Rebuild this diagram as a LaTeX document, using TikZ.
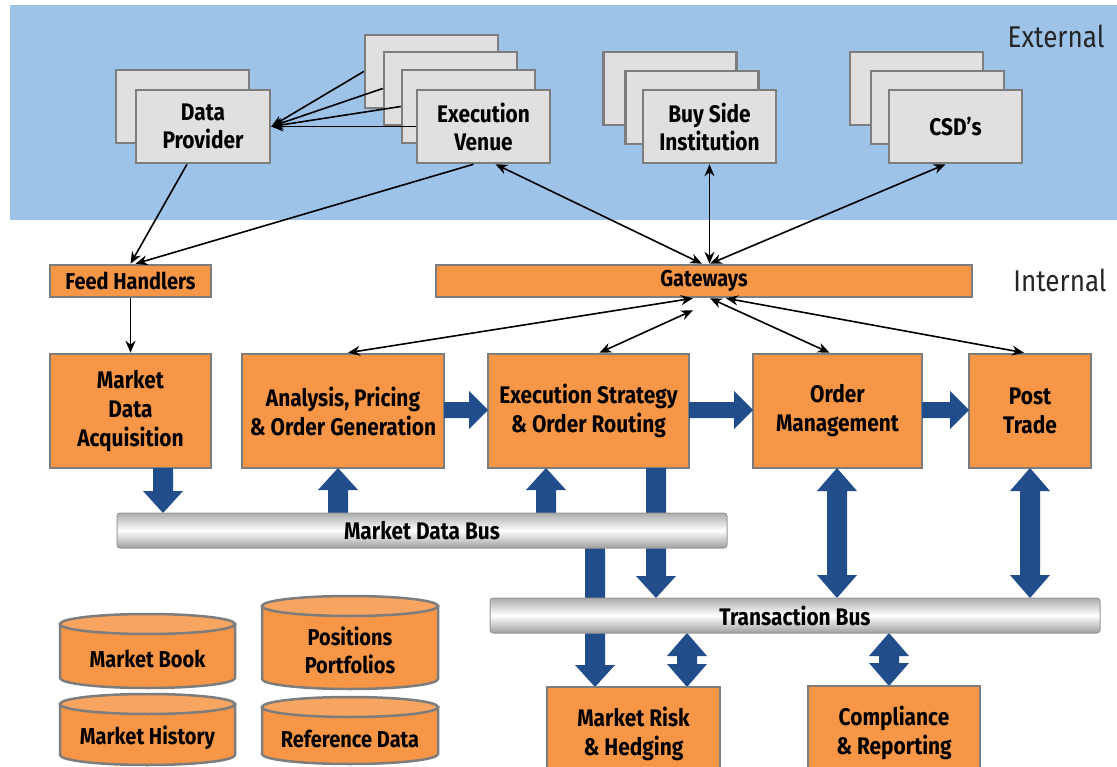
\documentclass[tikz,border=0pt]{standalone}
\usepackage{fontspec}
\setmainfont{Fira Sans}[FakeStretch=0.87]
\usetikzlibrary{arrows.meta,calc}
\definecolor{bgblue}{RGB}{157,195,233}
\definecolor{orangef}{RGB}{246,150,70}
\definecolor{orangetop}{RGB}{248,165,98}
\definecolor{bordgray}{RGB}{125,125,125}
\definecolor{boxgray}{RGB}{224,224,224}
\definecolor{arrblue}{RGB}{33,78,138}
\tikzset{
  gbox/.style={draw=bordgray, fill=boxgray, line width=2.5pt, minimum width=133pt, minimum height=73pt, align=center, font=\fontsize{24}{28}\selectfont\bfseries, inner sep=0pt},
  obox/.style={draw=bordgray, fill=orangef, line width=2.5pt, align=center, font=\fontsize{24}{29}\selectfont\bfseries, inner sep=0pt},
  busst/.style={draw=gray!80, line width=1pt, rounded corners=3pt, top color=gray!65, bottom color=gray!75, middle color=white, align=center, font=\fontsize{24}{28}\selectfont\bfseries, inner sep=0pt},
  conn/.style={line width=1.6pt, -{Stealth[length=12pt,width=10pt]}},
  bconn/.style={line width=1.6pt, {Stealth[length=12pt,width=10pt]}-{Stealth[length=12pt,width=10pt]}},
  barrow/.style={fill=arrblue},
  cylst/.style={draw=bordgray, fill=orangef, line width=2.5pt},
  cyltext/.style={align=center, font=\fontsize{23}{28}\selectfont\bfseries, inner sep=0pt},
  lbl/.style={font=\fontsize{30}{34}\selectfont, text=black!85, inner sep=0pt}
}
% vertical arrow pointing down: x, ytop, ytip
\newcommand\varrdown[3]{\fill[barrow] (#1-10,#2) -- (#1+10,#2) -- (#1+10,#3-22) -- (#1+20,#3-22) -- (#1,#3) -- (#1-20,#3-22) -- (#1-10,#3-22) -- cycle;}
% vertical arrow pointing up: x, ytip, ybottom
\newcommand\varrup[3]{\fill[barrow] (#1-10,#3) -- (#1+10,#3) -- (#1+10,#2+22) -- (#1+20,#2+22) -- (#1,#2) -- (#1-20,#2+22) -- (#1-10,#2+22) -- cycle;}
% double vertical arrow: x, ytop tip, ybottom tip
\newcommand\varrboth[3]{\fill[barrow] (#1,#2) -- (#1+20,#2+23) -- (#1+10,#2+23) -- (#1+10,#3-23) -- (#1+20,#3-23) -- (#1,#3) -- (#1-20,#3-23) -- (#1-10,#3-23) -- (#1-10,#2+23) -- (#1-20,#2+23) -- cycle;}
% horizontal arrow pointing right: y, xstart, xtip
\newcommand\harr[3]{\fill[barrow] (#2,#1-8) -- (#3-19,#1-8) -- (#3-19,#1-19) -- (#3,#1) -- (#3-19,#1+19) -- (#3-19,#1+8) -- (#2,#1+8) -- cycle;}
% cylinder: name, cx, rx, ytop centre, ybottom centre, text
\newcommand\dbcyl[6]{%
  \filldraw[cylst] (#2-#3,#4) -- (#2-#3,#5) arc[start angle=180,end angle=360,x radius=#3pt,y radius=10pt] -- (#2+#3,#4) -- cycle;
  \filldraw[cylst, fill=orangetop] (#2,#4) ellipse[x radius=#3pt,y radius=10pt];
  \node[cyltext] (#1) at (#2,{(#4+#5)/2+8}) {#6};}
\begin{document}
\begin{tikzpicture}[x=1pt,y=-1pt]
\useasboundingbox (0,0) rectangle (1117,767);
\fill[bgblue] (10,5) rectangle (1117,220);
\node[lbl] (ext) at (1056,36) {External};
\node[lbl] (int) at (1060,280) {Internal};

% external stacks
\node[gbox] (dp1) at (182.5,106.5) {};
\node[gbox, minimum width=134pt] (dp) at (203,126.5) {Data\\Provider};
\node[gbox] (ev1) at (431.5,71.5) {};
\node[gbox] (ev2) at (450.5,88.5) {};
\node[gbox] (ev3) at (468.5,106.5) {};
\node[gbox] (ev4) at (483.5,126.5) {Execution\\Venue};
\node[gbox] (bs1) at (670,88.5) {};
\node[gbox] (bs2) at (692,107.5) {};
\node[gbox] (bs3) at (709.5,126.5) {Buy Side\\Institution};
\node[gbox] (cs1) at (916.5,88.5) {};
\node[gbox] (cs2) at (937.5,107.5) {};
\node[gbox] (cs3) at (955.5,126.5) {CSD's};

% internal boxes
\node[obox, font=\fontsize{23}{26}\selectfont\bfseries, minimum width=161pt, minimum height=32pt] (fh) at (130.5,281) {Feed Handlers};
\node[obox, font=\fontsize{23}{26}\selectfont\bfseries, minimum width=536pt, minimum height=32pt] (gw) at (704,281) {Gateways};
\node[obox, minimum width=161pt, minimum height=114pt] (mda) at (130.5,411) {Market\\Data\\Acquisition};
\node[obox, minimum width=202pt, minimum height=114pt] (apg) at (343,411) {Analysis, Pricing\\\& Order Generation};
\node[obox, minimum width=201pt, minimum height=114pt] (es) at (588.5,411) {Execution Strategy\\\& Order Routing};
\node[obox, minimum width=169pt, minimum height=114pt] (om) at (837.5,411) {Order\\Management};
\node[obox, minimum width=122pt, minimum height=114pt] (pt) at (1030,411) {Post\\Trade};

% block arrows (those passing behind buses first)
\varrdown{656}{468}{598}
\varrdown{595}{548}{687}
\varrdown{163}{468}{513}
\varrup{338}{468}{513}
\varrup{546}{468}{513}
\varrboth{837}{468}{598}
\varrboth{1030}{468}{598}
\varrboth{687}{633}{687}
\varrboth{889}{633}{686}
\harr{410}{444}{488}
\harr{410}{689}{753}
\harr{410}{922}{969}

% buses
\node[busst, minimum width=610pt, minimum height=35pt] (mdb) at (422,530.5) {Market Data Bus};
\node[busst, minimum width=610pt, minimum height=35pt] (tb) at (795,615.5) {Transaction Bus};

% bottom boxes
\node[obox, minimum width=173pt, minimum height=88pt, text depth=0pt] (mr) at (633.5,731) {Market Risk\\\& Hedging};
\node[obox, minimum width=172pt, minimum height=89pt, text depth=0pt] (cr) at (894,730.5) {Compliance\\\& Reporting};

% databases
\dbcyl{mb}{147.5}{87.5}{624}{678}{Market Book}
\dbcyl{mh}{147.5}{87.5}{704}{755}{Market History}
\dbcyl{pp}{350}{88}{606}{679}{Positions\\Portfolios}
\dbcyl{rd}{350}{88}{707}{754}{Reference Data}

% thin connectors
\draw[conn] (ev1.west) -- (dp.east);
\draw[conn] (ev2.west) -- (dp.east);
\draw[conn] (ev3.west) -- (dp.east);
\draw[conn] (ev4.west) -- (dp.east);
\draw[conn] ($(dp.south)+(-16,0)$) -- (fh.north);
\draw[conn] ($(ev4.south)+(-10,0)$) -- ($(fh.north)+(5,0)$);
\draw[bconn] ($(ev4.south)+(12,0)$) -- ($(gw.north)+(-2,0)$);
\draw[bconn] (bs3.south) -- (bs3.south |- gw.north);
\draw[bconn] ($(cs3.south)+(-10,0)$) -- ($(gw.north)+(6,0)$);
\draw[conn] (fh.south) -- (mda.north);
\draw[bconn] ($(gw.south)+(-11,0)$) -- ($(apg.north)+(5,0)$);
\draw[bconn] ($(gw.south)+(-11,12)$) -- ($(es.north)+(11,0)$);
\draw[bconn] ($(gw.south)+(6,0)$) -- ($(om.north)+(-8,0)$);
\draw[bconn] ($(gw.south)+(22,0)$) -- ($(pt.north)+(-6,0)$);
\end{tikzpicture}
\end{document}
